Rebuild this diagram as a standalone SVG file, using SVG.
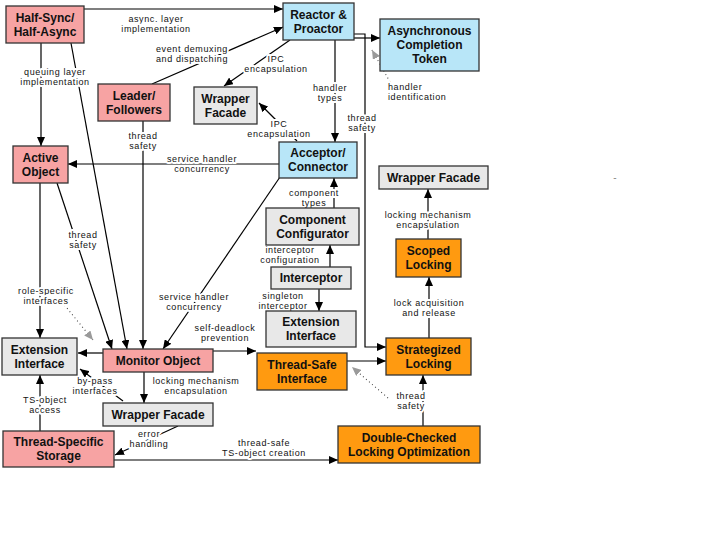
<svg xmlns="http://www.w3.org/2000/svg" width="720" height="540" viewBox="0 0 720 540">
<style>
.n rect{stroke:#333;stroke-width:1.3}
.pink{fill:#F7A3A3}.blue{fill:#B8E6F8}.gray{fill:#E8E8E8}.orange{fill:#FF9A10}
.t{font-family:"Liberation Sans",Arial,sans-serif;font-weight:bold;font-size:12px;text-anchor:middle;fill:#111}
.l{font-family:"Liberation Sans",Arial,sans-serif;font-size:9px;letter-spacing:0.6px;text-anchor:middle;fill:#111;paint-order:stroke;stroke:#fff;stroke-width:4px;stroke-linejoin:round}
.c path.s{fill:none;stroke:#000;stroke-width:1.2;marker-end:url(#a)}
.c path.d{fill:none;stroke:#444;stroke-width:1.1;stroke-dasharray:1 3;marker-end:url(#h)}
</style>
<defs>
<marker id="a" viewBox="0 0 9 8" refX="9" refY="4" markerWidth="9" markerHeight="8" markerUnits="userSpaceOnUse" orient="auto"><path d="M0,0 L9,4 L0,8 z" fill="#000"/></marker>
<marker id="h" viewBox="0 0 9 8" refX="9" refY="4" markerWidth="9" markerHeight="8" markerUnits="userSpaceOnUse" orient="auto"><path d="M0,0 L9,4 L0,8 z" fill="#9a9a9a"/></marker>
</defs>
<rect width="720" height="540" fill="#fff"/>
<g id="connectors" class="c">
<path class="s" d="M84,9 H283"/>
<path class="s" d="M152,84 L283,27"/>
<path class="s" d="M290,40 L224,86"/>
<path class="s" d="M297,141 L259,103"/>
<path class="s" d="M335,40 V142"/>
<path class="s" d="M354,38 H380"/>
<path class="s" d="M354,34 H365 V347 H386"/>
<path class="d" d="M390,82 L372,50"/>
<path class="s" d="M41,43 V146"/>
<path class="s" d="M71,43 L127,349"/>
<path class="s" d="M143,121 V349"/>
<path class="s" d="M279,164 H68"/>
<path class="s" d="M57,183 L112,349"/>
<path class="s" d="M280,177 L163,349"/>
<path class="s" d="M40,183 V338"/>
<path class="d" d="M62,302 L93,340"/>
<path class="s" d="M103,353 H78"/>
<path class="s" d="M123,401 L80,369"/>
<path class="s" d="M144,372 V403"/>
<path class="s" d="M40,431 V375"/>
<path class="s" d="M178,426 L115,455"/>
<path class="s" d="M114,460 H338"/>
<path class="s" d="M213,351 H256"/>
<path class="s" d="M347,361 H386"/>
<path class="d" d="M388,398 L352,367"/>
<path class="s" d="M423,426 V375"/>
<path class="s" d="M429,338 V277"/>
<path class="s" d="M428,239 V189"/>
<path class="s" d="M334,208 V178"/>
<path class="s" d="M330,267 V245"/>
<path class="s" d="M319,289 V311"/>
<text class="l" x="156" y="22.2">async. layer<tspan x="156" y="32.2">implementation</tspan></text>
<text class="l" x="192" y="51.7">event demuxing<tspan x="192" y="61.7">and dispatching</tspan></text>
<text class="l" x="276" y="61.7">IPC<tspan x="276" y="71.7">encapsulation</tspan></text>
<text class="l" x="279" y="127.2">IPC<tspan x="279" y="137.2">encapsulation</tspan></text>
<text class="l" x="330" y="90.7">handler<tspan x="330" y="100.7">types</tspan></text>
<text class="l" x="362" y="121.2">thread<tspan x="362" y="131.2">safety</tspan></text>
<text class="l" x="388" y="90.2" style="text-anchor:start">handler<tspan x="388" y="100.2">identification</tspan></text>
<text class="l" x="55" y="74.7">queuing layer<tspan x="55" y="84.7">implementation</tspan></text>
<text class="l" x="143" y="139.2">thread<tspan x="143" y="149.2">safety</tspan></text>
<text class="l" x="202" y="162.2">service handler<tspan x="202" y="172.2">concurrency</tspan></text>
<text class="l" x="83" y="238.2">thread<tspan x="83" y="248.2">safety</tspan></text>
<text class="l" x="46" y="293.7">role-specific<tspan x="46" y="303.7">interfaces</tspan></text>
<text class="l" x="194" y="299.7">service handler<tspan x="194" y="309.7">concurrency</tspan></text>
<text class="l" x="225" y="331.2">self-deadlock<tspan x="225" y="341.2">prevention</tspan></text>
<text class="l" x="95" y="383.7">by-pass<tspan x="95" y="393.7">interfaces</tspan></text>
<text class="l" x="196" y="383.7">locking mechanism<tspan x="196" y="393.7">encapsulation</tspan></text>
<text class="l" x="45" y="403.2">TS-object<tspan x="45" y="413.2">access</tspan></text>
<text class="l" x="149" y="436.7">error<tspan x="149" y="446.7">handling</tspan></text>
<text class="l" x="264" y="445.7">thread-safe<tspan x="264" y="455.7">TS-object creation</tspan></text>
<text class="l" x="314" y="196.2">component<tspan x="314" y="206.2">types</tspan></text>
<text class="l" x="290" y="252.7">interceptor<tspan x="290" y="262.7">configuration</tspan></text>
<text class="l" x="283" y="299.2">singleton<tspan x="283" y="309.2">interceptor</tspan></text>
<text class="l" x="428" y="217.7">locking mechanism<tspan x="428" y="227.7">encapsulation</tspan></text>
<text class="l" x="429" y="306.2">lock acquisition<tspan x="429" y="316.2">and release</tspan></text>
<text class="l" x="411" y="399.2">thread<tspan x="411" y="409.2">safety</tspan></text>
</g>
<g id="half-sync" class="n"><rect class="pink" x="6" y="6" width="78" height="37"/><text class="t" x="45" y="21.8">Half-Sync/<tspan x="45" y="35.8">Half-Async</tspan></text></g>
<g id="reactor" class="n"><rect class="blue" x="283" y="3" width="71" height="37"/><text class="t" x="318.5" y="18.8">Reactor &amp;<tspan x="318.5" y="32.8">Proactor</tspan></text></g>
<g id="act" class="n"><rect class="blue" x="380" y="19" width="99" height="52"/><text class="t" x="429.5" y="35.3">Asynchronous<tspan x="429.5" y="49.3">Completion</tspan><tspan x="429.5" y="63.3">Token</tspan></text></g>
<g id="leader" class="n"><rect class="pink" x="98" y="84" width="72" height="37"/><text class="t" x="134" y="99.8">Leader/<tspan x="134" y="113.8">Followers</tspan></text></g>
<g id="wf-top" class="n"><rect class="gray" x="194" y="87" width="63" height="37"/><text class="t" x="225.5" y="102.8">Wrapper<tspan x="225.5" y="116.8">Facade</tspan></text></g>
<g id="active" class="n"><rect class="pink" x="13" y="146" width="55" height="37"/><text class="t" x="40.5" y="161.8">Active<tspan x="40.5" y="175.8">Object</tspan></text></g>
<g id="acceptor" class="n"><rect class="blue" x="279" y="142" width="78" height="36"/><text class="t" x="318" y="157.3">Acceptor/<tspan x="318" y="171.3">Connector</tspan></text></g>
<g id="wf-right" class="n"><rect class="gray" x="379" y="166" width="109" height="23"/><text class="t" x="433.5" y="181.8">Wrapper Facade</text></g>
<g id="configurator" class="n"><rect class="gray" x="266" y="208" width="93" height="37"/><text class="t" x="312.5" y="223.8">Component<tspan x="312.5" y="237.8">Configurator</tspan></text></g>
<g id="interceptor" class="n"><rect class="gray" x="271" y="267" width="80" height="22"/><text class="t" x="311" y="282.3">Interceptor</text></g>
<g id="ext-right" class="n"><rect class="gray" x="266" y="311" width="90" height="36"/><text class="t" x="311" y="326.3">Extension<tspan x="311" y="340.3">Interface</tspan></text></g>
<g id="scoped" class="n"><rect class="orange" x="396" y="239" width="65" height="38"/><text class="t" x="428.5" y="255.3">Scoped<tspan x="428.5" y="269.3">Locking</tspan></text></g>
<g id="strategized" class="n"><rect class="orange" x="386" y="338" width="85" height="37"/><text class="t" x="428.5" y="353.8">Strategized<tspan x="428.5" y="367.8">Locking</tspan></text></g>
<g id="thread-safe" class="n"><rect class="orange" x="257" y="353" width="90" height="37"/><text class="t" x="302" y="368.8">Thread-Safe<tspan x="302" y="382.8">Interface</tspan></text></g>
<g id="dcl" class="n"><rect class="orange" x="338" y="426" width="142" height="37"/><text class="t" x="409" y="441.8">Double-Checked<tspan x="409" y="455.8">Locking Optimization</tspan></text></g>
<g id="ext-left" class="n"><rect class="gray" x="2" y="338" width="75" height="37"/><text class="t" x="39.5" y="353.8">Extension<tspan x="39.5" y="367.8">Interface</tspan></text></g>
<g id="monitor" class="n"><rect class="pink" x="103" y="349" width="110" height="23"/><text class="t" x="158" y="364.8">Monitor Object</text></g>
<g id="wf-bottom" class="n"><rect class="gray" x="103" y="403" width="110" height="23"/><text class="t" x="158" y="418.8">Wrapper Facade</text></g>
<g id="tss" class="n"><rect class="pink" x="3" y="431" width="111" height="36"/><text class="t" x="58.5" y="446.3">Thread-Specific<tspan x="58.5" y="460.3">Storage</tspan></text></g>
<text x="615" y="181" style="font-family:'Liberation Sans',Arial,sans-serif;font-size:10px;fill:#888;text-anchor:middle">-</text>
</svg>
